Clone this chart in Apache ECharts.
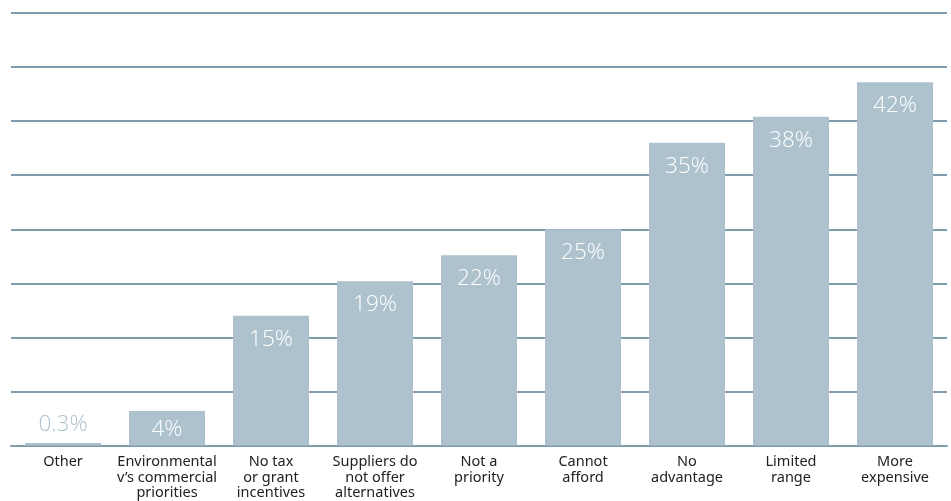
<!DOCTYPE html>
<html>
<head>
<meta charset="utf-8">
<style>
  html, body { margin: 0; padding: 0; background: #fff; }
  #chart { width: 951px; height: 501px; }
</style>
<script src="https://cdn.jsdelivr.net/npm/echarts@6/dist/echarts.min.js"></script>
</head>
<body>
<div id="chart"></div>
<script>
// Reasons given for not switching (share of respondents, %)
const categories = [
  'Other',
  'Environmental\nv\u2019s commercial\npriorities',
  'No tax\nor grant\nincentives',
  'Suppliers do\nnot offer\nalternatives',
  'Not a\npriority',
  'Cannot\nafford',
  'No\nadvantage',
  'Limited\nrange',
  'More\nexpensive'
];
const values = [0.3, 4, 15, 19, 22, 25, 35, 38, 42];
const valueLabels = ['0.3%', '4%', '15%', '19%', '22%', '25%', '35%', '38%', '42%'];

const BAR = '#adc2cd';
const LINE = '#819cac';

const chart = echarts.init(document.getElementById('chart'), null, { renderer: 'canvas' });

const seriesData = values.map((v, i) => {
  const item = { value: v };
  if (v < 2) {
    // too short to hold its label: print it above the bar in the bar colour
    item.label = { position: 'top', distance: 7, color: BAR };
  } else if (v < 10) {
    item.label = { distance: 7 };
  }
  return item;
});

chart.setOption({
  animation: false,
  grid: { left: 11, right: 4, top: 13, bottom: 53, containLabel: false },
  xAxis: {
    type: 'category',
    data: categories,
    axisLine: { show: true, lineStyle: { color: LINE, width: 2 } },
    axisTick: { show: false },
    axisLabel: {
      interval: 0,
      margin: 9,
      color: '#222',
      fontFamily: 'Noto Sans',
      fontSize: 14.5,
      lineHeight: 15.5,
      verticalAlign: 'top'
    }
  },
  yAxis: {
    type: 'value',
    min: 0,
    max: 50,
    interval: 6.25,
    axisLabel: { show: false },
    axisLine: { show: false },
    axisTick: { show: false },
    splitLine: { show: true, lineStyle: { color: LINE, width: 2 } }
  },
  series: [{
    type: 'bar',
    data: seriesData,
    barWidth: 76,
    itemStyle: { color: BAR },
    label: {
      show: true,
      position: 'insideTop',
      distance: 12,
      color: '#ffffff',
      fontFamily: 'Open Sans',
      fontWeight: 300,
      fontSize: 22.5,
      formatter: p => valueLabels[p.dataIndex]
    }
  }]
});
</script>
</body>
</html>
